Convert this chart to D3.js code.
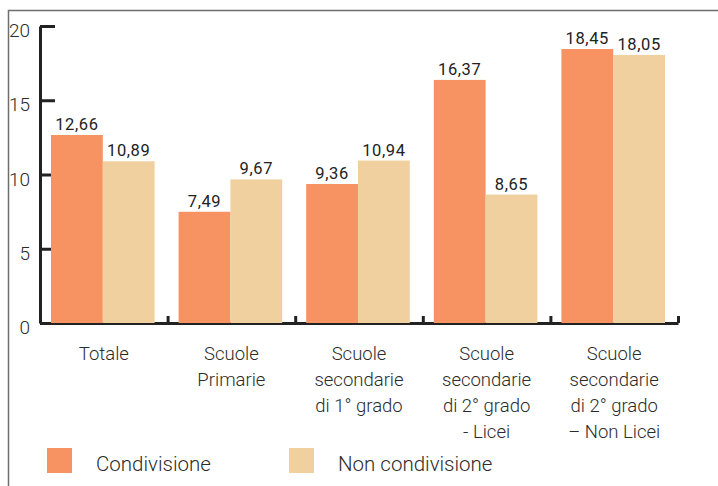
<!DOCTYPE html>
<html lang="it">
<head>
    <meta charset="UTF-8">
    <title>Condivisione</title>
    <script src="https://cdn.jsdelivr.net/npm/d3@7"></script>
    <style>
        body { margin: 0; background: #fff; }
        text { font-family: Roboto, "Open Sans", sans-serif; fill: #2b2b2b; }
    </style>
</head>
<body>
    <div id="chart"></div>
    <script>
        // dati
        var categories = ["Totale", "Scuole Primarie", "Scuole secondarie di 1° grado",
                          "Scuole secondarie di 2° grado - Licei", "Scuole secondarie di 2° grado – Non Licei"];
        var categoryLines = [
            ["Totale"],
            ["Scuole", "Primarie"],
            ["Scuole", "secondarie", "di 1° grado"],
            ["Scuole", "secondarie", "di 2° grado", "- Licei"],
            ["Scuole", "secondarie", "di 2° grado", "– Non Licei"]
        ];
        var series = ["Condivisione", "Non condivisione"];
        var condivisione = [12.66, 7.49, 9.36, 16.37, 18.45];
        var nonCondivisione = [10.89, 9.67, 10.94, 8.65, 18.05];
        var yTicks = [0, 5, 10, 15, 20];
        var colors = ["#f79263", "#f0d09e"];

        var width = 718, height = 486;
        var svg = d3.select("#chart").append("svg")
            .attr("width", width).attr("height", height);

        // cornice
        svg.append("path")
            .attr("d", "M8.5," + height + "V10.5H" + width)
            .attr("fill", "none").attr("stroke", "#6e6e6e").attr("stroke-width", 1.5);

        // scale
        var x0 = d3.scaleBand().domain(categories).range([40, 678]).padding(0);
        var x1 = d3.scaleBand().domain(series).range([11, x0.bandwidth() - 13]);
        var y = d3.scaleLinear().domain([0, 20]).range([323, 26]);

        var rows = categories.map(function (c, i) {
            return { cat: c, values: [condivisione[i], nonCondivisione[i]] };
        });

        // asse y
        var yAxis = svg.append("g")
            .attr("transform", "translate(40,0)")
            .call(d3.axisRight(y).tickValues(yTicks).tickSize(15).tickSizeOuter(0).tickFormat(""));
        yAxis.select(".domain").attr("stroke", "#222").attr("stroke-width", 3);
        yAxis.selectAll(".tick line").attr("stroke", "#222").attr("stroke-width", 3);

        svg.selectAll(".ylabel").data(yTicks).enter().append("text")
            .attr("class", "ylabel")
            .attr("x", 30)
            .attr("y", function (d) { return y(d) + 11; })
            .attr("text-anchor", "end")
            .attr("font-size", 19).attr("font-weight", 300)
            .text(function (d) { return d; });

        // asse x
        var xAxis = svg.append("g")
            .attr("transform", "translate(0,323)")
            .call(d3.axisTop(d3.scaleLinear().domain([0, categories.length]).range(x0.range()))
                .tickValues(d3.range(1, categories.length + 1)).tickSize(7).tickSizeOuter(0).tickFormat(""));
        xAxis.select(".domain").attr("stroke", "#222").attr("stroke-width", 3);
        xAxis.selectAll(".tick line").attr("stroke", "#222").attr("stroke-width", 3);

        // barre
        var groups = svg.selectAll(".group").data(rows).enter().append("g")
            .attr("class", "group")
            .attr("transform", function (d) { return "translate(" + x0(d.cat) + ",0)"; });

        groups.selectAll("rect").data(function (d) { return d.values; }).enter().append("rect")
            .attr("x", function (d, i) { return x1(series[i]); })
            .attr("width", x1.bandwidth())
            .attr("y", function (d) { return y(d); })
            .attr("height", function (d) { return y(0) - y(d); })
            .attr("fill", function (d, i) { return colors[i]; });

        groups.selectAll(".val").data(function (d) { return d.values; }).enter().append("text")
            .attr("class", "val")
            .attr("x", function (d, i) { return x1(series[i]) + x1.bandwidth() / 2; })
            .attr("y", function (d) { return y(d) - 5; })
            .attr("text-anchor", "middle")
            .attr("font-size", 16.5).attr("font-weight", 400).attr("letter-spacing", 0.6)
            .style("fill", "#222")
            .text(function (d) { return d.toFixed(2).replace(".", ","); });

        // etichette categorie
        svg.selectAll(".cat").data(categoryLines).enter().append("text")
            .attr("class", "cat")
            .attr("text-anchor", "middle")
            .attr("font-size", 18.5).attr("font-weight", 300)
            .attr("transform", function (d, i) {
                return "translate(" + (x0(categories[i]) + x0.bandwidth() / 2) + ",360)";
            })
            .selectAll("tspan").data(function (d) { return d; }).enter().append("tspan")
            .attr("x", 0)
            .attr("y", function (d, i) { return i * 26; })
            .text(function (d) { return d; });

        // legenda
        var legendX = [47, 289];
        var legend = svg.selectAll(".legend").data(series).enter().append("g")
            .attr("class", "legend")
            .attr("transform", function (d, i) { return "translate(" + legendX[i] + ",448)"; });
        legend.append("rect")
            .attr("width", 25).attr("height", 25)
            .attr("fill", function (d, i) { return colors[i]; });
        legend.append("text")
            .attr("x", 49).attr("y", 23)
            .attr("font-size", 20.5).attr("font-weight", 300)
            .text(function (d) { return d; });
    </script>
</body>
</html>
